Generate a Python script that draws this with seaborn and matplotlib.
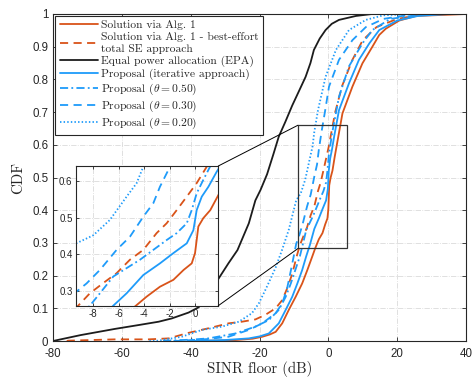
import matplotlib
matplotlib.use('Agg')
import matplotlib.pyplot as plt
import seaborn as sns
import pandas as pd
from matplotlib.patches import Rectangle, ConnectionPatch

# CDF curves: SINR floor (dB) vs CDF
alg1_x = [-40, -28, -22, -19.2, -17, -15.3, -13.4, -11.5, -9.5, -7.6, -6.1, -4.65, -3.8, -2.76, -1.7, -0.9,
          -0.26, 0.0, 0.13, 0.26, 0.65, 1.2, 1.83, 2.2, 4.1, 7.0, 9.9, 12.8, 14.8, 16.7, 20.6, 25.5, 40]
alg1_y = [0, 0.002, 0.007, 0.013, 0.02, 0.028, 0.054, 0.095, 0.135, 0.176, 0.217, 0.259, 0.284, 0.311, 0.33, 0.357,
          0.375, 0.403, 0.439, 0.476, 0.499, 0.521, 0.562, 0.584, 0.696, 0.778, 0.849, 0.90, 0.936, 0.955, 0.98, 0.994, 1.0]

besteff_x = [-76, -75.6, -62, -52.3, -46.4, -40.6, -34.8, -29, -25.1, -21.2, -18.3, -15.3, -13.4, -12, -10.5,
             -9.19, -8.27, -7.22, -6.17, -5.12, -4.07, -3.02, -2.23, -1.44, -0.65, 0.13, 0.92, 2.0, 4.0, 7.0,
             10.0, 14.0, 20.0, 28.0]
besteff_y = [0, 0.001, 0.005, 0.005, 0.008, 0.025, 0.039, 0.054, 0.059, 0.066, 0.08, 0.10, 0.125, 0.16, 0.205,
             0.259, 0.293, 0.321, 0.348, 0.385, 0.412, 0.458, 0.485, 0.521, 0.558, 0.595, 0.64, 0.70, 0.78, 0.86,
             0.92, 0.96, 0.985, 1.0]

epa_x = [-80, -72, -62, -55, -49.3, -45.5, -40.6, -37.7, -35, -32.8, -29, -26.4, -23.1, -21.2, -19.7, -17.8,
         -16, -14.4, -12.5, -10.5, -8.5, -6.6, -5.2, -4.2, -2.5, -0.8, 1, 3.1, 8, 12.7, 40]
epa_y = [0, 0.018, 0.037, 0.049, 0.059, 0.069, 0.087, 0.103, 0.135, 0.176, 0.238, 0.278, 0.36, 0.43, 0.462, 0.51,
         0.57, 0.625, 0.67, 0.72, 0.765, 0.808, 0.85, 0.89, 0.925, 0.951, 0.97, 0.982, 0.994, 1.0, 1.0]

iter_x = [-40, -30, -23.1, -20, -17.3, -14.4, -12.4, -10.5, -9.0, -7.6, -6.43, -5.38, -4.07, -2.76, -1.71, -0.65,
          -0.13, 0.13, 0.53, 1.05, 1.7, 3.1, 6.0, 8.9, 11.9, 14.8, 20, 26, 35]
iter_y = [0, 0.003, 0.008, 0.014, 0.023, 0.054, 0.095, 0.135, 0.176, 0.217, 0.259, 0.293, 0.343, 0.375, 0.403, 0.43,
          0.466, 0.521, 0.558, 0.585, 0.626, 0.706, 0.788, 0.86, 0.91, 0.951, 0.98, 0.994, 1.0]

th50_x = [-48, -47.4, -40, -34.8, -27, -21.2, -17.3, -14.4, -12.4, -10.9, -9.5, -8.27, -7.48, -6.43, -5.38, -4.33,
          -3.28, -2.23, -1.44, -0.65, -0.26, 0.13, 0.65, 1.18, 3.1, 6.0, 9.9, 12.8, 18, 28]
th50_y = [0, 0.001, 0.004, 0.008, 0.023, 0.044, 0.064, 0.095, 0.135, 0.176, 0.22, 0.259, 0.293, 0.339, 0.362, 0.385,
          0.412, 0.439, 0.458, 0.485, 0.521, 0.567, 0.604, 0.64, 0.747, 0.84, 0.91, 0.951, 0.985, 1.0]

th30_x = [-45, -42.6, -35, -29, -23.1, -19.2, -15.3, -13.4, -12, -10.8, -9.34, -8.53, -7.48, -6.17, -5.12, -4.07,
          -3.28, -2.76, -1.97, -1.0, 0.2, 3.1, 7, 10.9, 16, 25]
th30_y = [0, 0.001, 0.006, 0.013, 0.034, 0.054, 0.085, 0.115, 0.16, 0.22, 0.297, 0.32, 0.357, 0.412, 0.448, 0.503,
          0.54, 0.585, 0.64, 0.70, 0.778, 0.86, 0.92, 0.96, 0.985, 1.0]

th20_x = [-52, -49.4, -42.6, -36.7, -30.9, -26, -22.2, -20.2, -18.3, -16.8, -15.3, -13.4, -11.5, -9.34, -8.0, -6.7,
          -5.38, -4.59, -4.07, -3.0, -0.8, 2.2, 6.0, 10.9, 16, 24]
th20_y = [0, 0.001, 0.013, 0.034, 0.044, 0.059, 0.085, 0.115, 0.156, 0.19, 0.225, 0.28, 0.34, 0.43, 0.452, 0.494,
          0.558, 0.595, 0.64, 0.706, 0.808, 0.89, 0.951, 0.982, 0.996, 1.0]

labels = ['Solution via Alg. 1',
          'Solution via Alg. 1 - best-effort\ntotal SE approach',
          'Equal power allocation (EPA)',
          'Proposal (iterative approach)',
          r'Proposal ($\theta = 0.50$)',
          r'Proposal ($\theta = 0.30$)',
          r'Proposal ($\theta = 0.20$)']

x_ticks = [-80, -60, -40, -20, 0, 20, 40]
y_ticks = [0, 0.1, 0.2, 0.3, 0.4, 0.5, 0.6, 0.7, 0.8, 0.9, 1]
y_ticklabels = ['0', '0.1', '0.2', '0.3', '0.4', '0.5', '0.6', '0.7', '0.8', '0.9', '1']
inset_x_ticks = [-8, -6, -4, -2, 0]
inset_y_ticks = [0.3, 0.4, 0.5, 0.6]

ORANGE = '#D95319'
BLUE = '#1E9BFA'
BLACK = '#1c1c1c'

curves = [
    (alg1_x, alg1_y, ORANGE, '-'),
    (besteff_x, besteff_y, ORANGE, (0, (4.5, 3))),
    (epa_x, epa_y, BLACK, '-'),
    (iter_x, iter_y, BLUE, '-'),
    (th50_x, th50_y, BLUE, (0, (4.5, 1.8, 1, 1.8))),
    (th30_x, th30_y, BLUE, (0, (4.5, 3))),
    (th20_x, th20_y, BLUE, (0, (0.8, 1.2))),
]

sns.set_style('ticks')
plt.rcParams['font.family'] = ['Liberation Sans', 'DejaVu Sans']
plt.rcParams['mathtext.fontset'] = 'cm'
plt.rcParams['axes.unicode_minus'] = False
serif = {'family': 'cmr10'}


def draw_curves(ax, with_labels):
    for (xs, ys, col, ls), lab in zip(curves, labels):
        df = pd.DataFrame({'x': xs, 'y': ys})
        sns.lineplot(data=df, x='x', y='y', ax=ax, color=col, linestyle=ls, linewidth=1.3,
                     estimator=None, sort=False, label=lab if with_labels else None, legend=False)


def style_axes(ax, size):
    ax.grid(True, linestyle='-.', color='#dadada', linewidth=0.6)
    ax.set_axisbelow(True)
    for sp in ax.spines.values():
        sp.set_color('#262626')
        sp.set_linewidth(0.8)
        sp.set_visible(True)
    ax.tick_params(direction='in', top=True, right=True, length=3, width=0.6,
                   labelsize=size, colors='#262626', pad=3.5)
    ax.set_xlabel('')
    ax.set_ylabel('')


fig = plt.figure(figsize=(4.75, 3.78), dpi=100)
ax = fig.add_axes([53 / 475, 1 - 341 / 378, 413 / 475, 327 / 378])
draw_curves(ax, True)
style_axes(ax, 8.3)
ax.tick_params(axis='x', pad=5)
ax.set_xlim(-80, 40)
ax.set_ylim(0, 1)
ax.set_xticks(x_ticks)
ax.set_yticks(y_ticks)
ax.set_yticklabels(y_ticklabels)
ax.set_xlabel('SINR floor (dB)', fontdict=serif, fontsize=10.8, labelpad=1)
ax.set_ylabel('CDF', fontdict=serif, fontsize=10.8, labelpad=5)

leg = ax.legend(loc='upper left', bbox_to_anchor=(0.006, 0.993), fancybox=False, framealpha=1,
                edgecolor='#262626', prop={'family': 'cmr10', 'size': 8.3}, handlelength=3.3,
                handletextpad=0.3, borderpad=0.35, labelspacing=0.15, borderaxespad=0)
leg.get_frame().set_linewidth(0.8)

# zoom box on the main axes
rx0, rx1, ry0, ry1 = -8.8, 5.4, 0.283, 0.66
ax.add_patch(Rectangle((rx0, ry0), rx1 - rx0, ry1 - ry0, fill=False, edgecolor='#333333',
                       linewidth=0.9, zorder=5))

ins = fig.add_axes([76 / 475, 1 - 305.7 / 378, 142.3 / 475, 139.7 / 378])
ins.set_facecolor('white')
draw_curves(ins, False)
style_axes(ins, 7)
ins.tick_params(length=2.5, pad=2.5)
ins.set_xlim(-9.36, 1.83)
ins.set_ylim(0.259, 0.642)
ins.set_xticks(inset_x_ticks)
ins.set_yticks(inset_y_ticks)

for a, b in [((1, 1), (rx0, ry1)), ((1, 0), (rx0, ry0))]:
    con = ConnectionPatch(xyA=a, coordsA=ins.transAxes, xyB=b, coordsB=ax.transData,
                          color='black', linewidth=0.7)
    fig.add_artist(con)

fig.savefig('out.png', dpi=100)
